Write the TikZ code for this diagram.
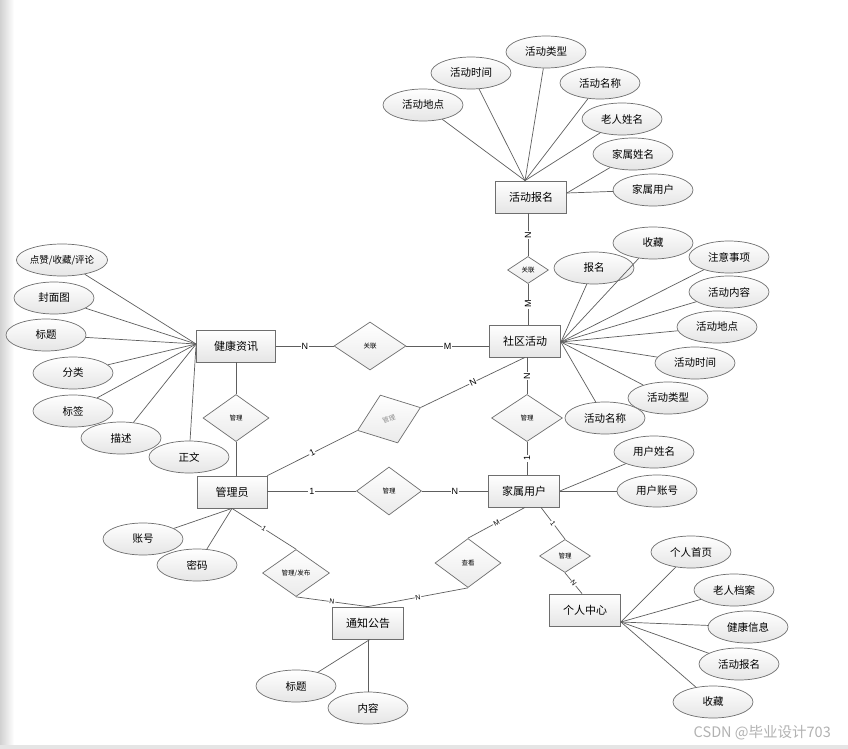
\documentclass[tikz,border=0pt]{standalone}
\usepackage{fontspec}
\setmainfont{Noto Sans CJK SC}
\newfontfamily\latf{Liberation Sans}
\usetikzlibrary{shapes.geometric,calc}
\definecolor{ln}{HTML}{5E5E5E}
\definecolor{bd}{HTML}{6E6E6E}
\tikzset{
 ent/.style={draw=bd, rectangle, minimum width=71pt, minimum height=32pt, inner sep=0pt, top color=white, bottom color=black!10, font=\fontsize{11}{12}\selectfont, line width=0.8pt},
 attr/.style={draw=bd, ellipse, minimum width=80pt, minimum height=32pt, inner sep=0pt, top color=white, bottom color=black!10, font=\fontsize{10.5}{12}\selectfont, line width=0.7pt},
 rel/.style={draw=bd, diamond, inner sep=0pt, top color=white, bottom color=black!8, font=\fontsize{6.5}{7}\selectfont, line width=0.7pt},
 conn/.style={draw=ln, line width=0.7pt},
 card/.style={fill=white, inner sep=0.8pt, font=\latf\fontsize{9}{10}\selectfont},
}
\begin{document}
\begin{tikzpicture}[x=1pt,y=-1pt]
\useasboundingbox (0,0) rectangle (848,749);
\fill[white] (0,0) rectangle (848,749);
\shade[left color=black!18, right color=white] (0,0) rectangle (14,745);
\fill[black!10] (0,745) rectangle (848,749);

% entities
\node[ent] (hdbm) at (531,197) {活动报名};
\node[ent, minimum width=79pt] (jkzx) at (236,346) {健康资讯};
\node[ent] (sqhd) at (525,341) {社区活动};
\node[ent, minimum width=70pt] (gly) at (232,492) {管理员};
\node[ent] (jsyh) at (524,491) {家属用户};
\node[ent] (grzx) at (585,610) {个人中心};
\node[ent] (tzgg) at (368,623) {通知公告};

% relationships
\node[rel, minimum width=41pt, minimum height=27pt] (r1) at (528,270) {关联};
\node[rel, minimum width=72pt, minimum height=48pt] (r2) at (370,346) {关联};
\node[rel, minimum width=66pt, minimum height=47pt] (r3) at (236,418) {管理};
\node[rel, minimum width=67pt, minimum height=51pt, rotate=20, text=black!45] (r4) at (389,419) {管理};
\node[rel, minimum width=71pt, minimum height=47pt] (r5) at (527,418) {管理};
\node[rel, minimum width=65pt, minimum height=48pt] (r6) at (389,491) {管理};
\node[rel, minimum width=67pt, minimum height=47pt] (r7) at (296,573) {管理/发布};
\node[rel, minimum width=66pt, minimum height=49pt] (r8) at (468,563) {查看};
\node[rel, minimum width=51pt, minimum height=33pt] (r9) at (565,556) {管理};

% relationship connectors
\draw[conn] (r1 |- hdbm.south) -- node[card, rotate=90]{N} (r1.north);
\draw[conn] (r1.south) -- node[card, rotate=90]{M} (r1 |- sqhd.north);
\draw[conn] (jkzx.east |- r2) -- node[card]{N} (r2.west);
\draw[conn] (r2.east) -- node[card]{M} (r2 -| sqhd.west);
\draw[conn] (jkzx.south -| r3) -- (r3.north);
\draw[conn] (r3.south) -- (r3 |- gly.north);
\draw[conn] (gly.north east) -- node[card, sloped]{1} (r4.west);
\draw[conn] (r4.east) -- node[card, sloped]{N} (sqhd.south);
\draw[conn] (r5 |- sqhd.south) -- node[card, rotate=90]{N} (r5.north);
\draw[conn] (r5.south) -- node[card, rotate=90]{1} (r5 |- jsyh.north);
\draw[conn] (gly.east |- r6) -- node[card]{1} (r6.west);
\draw[conn] (r6.east) -- node[card]{N} (r6 -| jsyh.west);
\draw[conn] (gly.south) -- node[card, sloped, font=\latf\fontsize{7}{8}\selectfont]{1} (r7.north);
\draw[conn] (r7.south) -- node[card, sloped, font=\latf\fontsize{7}{8}\selectfont]{N} (tzgg.north);
\draw[conn] ([xshift=1pt]jsyh.south) -- node[card, sloped, font=\latf\fontsize{7}{8}\selectfont]{M} (r8.north);
\draw[conn] (r8.south) -- node[card, sloped, font=\latf\fontsize{7}{8}\selectfont]{N} (tzgg.north);
\draw[conn] ([xshift=17pt]jsyh.south) -- node[card, sloped, font=\latf\fontsize{7}{8}\selectfont]{1} (r9.north);
\draw[conn] (r9.south) -- node[card, sloped, font=\latf\fontsize{7}{8}\selectfont]{N} ([xshift=-3pt]grzx.north);

% attributes of 活动报名
\node[attr] (a1) at (423,105) {活动地点};
\node[attr] (a2) at (471,73) {活动时间};
\node[attr] (a3) at (546,52) {活动类型};
\node[attr] (a4) at (600,83) {活动名称};
\node[attr] (a5) at (622,119) {老人姓名};
\node[attr] (a6) at (633,154) {家属姓名};
\node[attr] (a7) at (653,190) {家属用户};
\coordinate (cTop) at ([xshift=-6pt]hdbm.north);
\coordinate (cTopR) at ([yshift=4pt]hdbm.east);
\foreach \a in {a1,a2,a3,a4,a5} \draw[conn] (\a) -- (cTop);
\foreach \a in {a6,a7} \draw[conn] (\a) -- (cTopR);

% attributes of 健康资讯
\node[attr] (b1) at (62,260) {\fontsize{9.5}{11}\selectfont 点赞/收藏/评论};
\node[attr] (b2) at (54,298) {封面图};
\node[attr] (b3) at (46,335) {标题};
\node[attr] (b4) at (73,373) {分类};
\node[attr] (b5) at (73,411) {标签};
\node[attr] (b6) at (121,438) {描述};
\node[attr] (b7) at (189,457) {正文};
\coordinate (cJK) at ([yshift=2pt]jkzx.west);
\foreach \a in {b1,b2,b3,b4,b5,b6,b7} \draw[conn] (\a) -- (cJK);

% attributes of 社区活动
\node[attr] (c1) at (594,268) {报名};
\node[attr] (c2) at (653,243) {收藏};
\node[attr] (c3) at (729,257) {注意事项};
\node[attr] (c4) at (729,292) {活动内容};
\node[attr] (c5) at (717,327) {活动地点};
\node[attr] (c6) at (695,363) {活动时间};
\node[attr] (c7) at (668,398) {活动类型};
\node[attr] (c8) at (605,418) {活动名称};
\coordinate (cSQ) at ([yshift=-1pt]sqhd.east);
\foreach \a in {c1,c2,c3,c4,c5,c6,c7,c8} \draw[conn] (\a) -- (cSQ);

% attributes of 家属用户
\node[attr] (d1) at (654,452) {用户姓名};
\node[attr] (d2) at (657,491) {用户账号};
\draw[conn] (d1) -- (jsyh.east);
\draw[conn] (d2) -- (jsyh.east);

% attributes of 个人中心
\node[attr] (e1) at (691,552) {个人首页};
\node[attr] (e2) at (734,590) {老人档案};
\node[attr] (e3) at (748,627) {健康信息};
\node[attr] (e4) at (739,664) {活动报名};
\node[attr] (e5) at (713,702) {收藏};
\coordinate (cGR) at ([yshift=-12pt]grzx.east);
\foreach \a in {e1,e2,e3,e4,e5} \draw[conn] (\a) -- (cGR);

% attributes of 管理员
\node[attr] (f1) at (143,539) {账号};
\node[attr] (f2) at (197,565) {密码};
\draw[conn] (f1) -- (gly.south);
\draw[conn] (f2) -- (gly.south);

% attributes of 通知公告
\node[attr] (g1) at (296,686) {标题};
\node[attr] (g2) at (368,708) {内容};
\draw[conn] (g1) -- ([xshift=2pt]tzgg.south);
\draw[conn] (g2) -- (g2 |- tzgg.south);

% watermark
\node[text=black!30, font=\fontsize{14.5}{15}\selectfont, anchor=east, inner sep=0pt] (wm) at (831,733) {CSDN @毕业设计703};
\end{tikzpicture}
\end{document}
